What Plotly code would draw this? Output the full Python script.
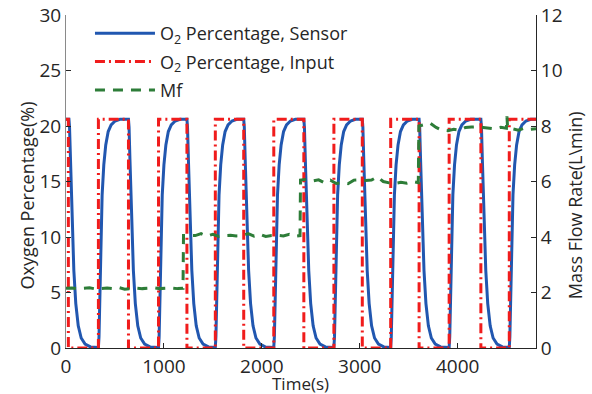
import plotly.graph_objects as go

# ---------------- data ----------------
# O2 percentage measured by sensor (%), time in s
sensor_t = [0,
    30, 36, 45, 55, 65, 80, 100, 125, 155, 195, 250,
    331, 337, 346, 356, 369, 386, 406, 431, 461, 501, 551,
    638, 644, 653, 663, 673, 688, 708, 733, 763, 803, 858,
    945, 951, 960, 970, 983, 1000, 1020, 1045, 1075, 1115, 1165,
    1235, 1241, 1250, 1260, 1270, 1285, 1305, 1330, 1360, 1400, 1455,
    1525, 1531, 1540, 1550, 1563, 1580, 1600, 1625, 1655, 1695, 1745,
    1815, 1821, 1830, 1840, 1850, 1865, 1885, 1910, 1940, 1980, 2035,
    2122, 2128, 2137, 2147, 2160, 2177, 2197, 2222, 2252, 2292, 2342,
    2429, 2435, 2444, 2454, 2464, 2479, 2499, 2524, 2554, 2594, 2649,
    2736, 2742, 2751, 2761, 2774, 2791, 2811, 2836, 2866, 2906, 2956,
    3026, 3032, 3041, 3051, 3061, 3076, 3096, 3121, 3151, 3191, 3246,
    3316, 3322, 3331, 3341, 3354, 3371, 3391, 3416, 3446, 3486, 3536,
    3606, 3612, 3621, 3631, 3641, 3656, 3676, 3701, 3731, 3771, 3826,
    3913, 3919, 3928, 3938, 3951, 3968, 3988, 4013, 4043, 4083, 4133,
    4237, 4243, 4252, 4262, 4272, 4287, 4307, 4332, 4362, 4402, 4457,
    4527, 4533, 4542, 4552, 4565, 4582, 4602, 4627, 4657, 4697, 4747,
    4800]
sensor_o2 = [20.6,
    20.6, 19.9, 17.0, 13.8, 10.5, 7.0, 4.0, 2.0, 0.9, 0.35, 0.1,
    0.05, 1.0, 5.5, 10.0, 13.8, 16.5, 18.3, 19.5, 20.1, 20.45, 20.6,
    20.6, 19.9, 17.0, 13.8, 10.5, 7.0, 4.0, 2.0, 0.9, 0.35, 0.1,
    0.05, 1.0, 5.5, 10.0, 13.8, 16.5, 18.3, 19.5, 20.1, 20.45, 20.6,
    20.6, 19.9, 17.0, 13.8, 10.5, 7.0, 4.0, 2.0, 0.9, 0.35, 0.1,
    0.05, 1.0, 5.5, 10.0, 13.8, 16.5, 18.3, 19.5, 20.1, 20.45, 20.6,
    20.6, 19.9, 17.0, 13.8, 10.5, 7.0, 4.0, 2.0, 0.9, 0.35, 0.1,
    0.05, 1.0, 5.5, 10.0, 13.8, 16.5, 18.3, 19.5, 20.1, 20.45, 20.6,
    20.6, 19.9, 17.0, 13.8, 10.5, 7.0, 4.0, 2.0, 0.9, 0.35, 0.1,
    0.05, 1.0, 5.5, 10.0, 13.8, 16.5, 18.3, 19.5, 20.1, 20.45, 20.6,
    20.6, 19.9, 17.0, 13.8, 10.5, 7.0, 4.0, 2.0, 0.9, 0.35, 0.1,
    0.05, 1.0, 5.5, 10.0, 13.8, 16.5, 18.3, 19.5, 20.1, 20.45, 20.6,
    20.6, 19.9, 17.0, 13.8, 10.5, 7.0, 4.0, 2.0, 0.9, 0.35, 0.1,
    0.05, 1.0, 5.5, 10.0, 13.8, 16.5, 18.3, 19.5, 20.1, 20.45, 20.6,
    20.6, 19.9, 17.0, 13.8, 10.5, 7.0, 4.0, 2.0, 0.9, 0.35, 0.1,
    0.05, 1.0, 5.5, 10.0, 13.8, 16.5, 18.3, 19.5, 20.1, 20.45, 20.6,
    20.6]

# O2 percentage input (square wave, switching times in s)
input_t = [0, 24, 331, 638, 945, 1235, 1525, 1815, 2122, 2429, 2736,
           3026, 3316, 3606, 3913, 4237, 4527, 4800]
input_o2 = [20.6, 0, 20.6, 0, 20.6, 0, 20.6, 0, 20.6, 0, 20.6,
            0, 20.6, 0, 20.6, 0, 20.6, 20.6]

# Mass flow rate (L/min)
mf_t = [0, 60, 120, 180, 240, 300, 360, 420, 480, 540, 600, 660, 720, 780,
        840, 900, 960, 1020, 1080, 1140, 1195,
        1200, 1260, 1320, 1380, 1440, 1500, 1560, 1620, 1680, 1740, 1800,
        1860, 1920, 1980, 2040, 2100, 2160, 2220, 2280, 2340, 2390,
        2395, 2460, 2520, 2580, 2640, 2700, 2760, 2820, 2880, 2940, 3000,
        3060, 3120, 3180, 3240, 3300, 3360, 3420, 3480, 3540, 3598,
        3604, 3660, 3720, 3780, 3840, 3900, 3960, 4020, 4080, 4140, 4200,
        4260, 4320, 4380, 4440, 4498, 4503, 4510, 4560, 4620, 4680, 4740, 4800]
mf_val = [2.15, 2.16, 2.14, 2.15, 2.17, 2.13, 2.15, 2.16, 2.14, 2.18, 2.12, 2.15, 2.16, 2.14,
          2.15, 2.17, 2.14, 2.15, 2.16, 2.14, 2.15,
          4.05, 4.06, 4.05, 4.12, 4.03, 4.10, 4.02, 4.05, 4.06, 4.04, 4.05,
          4.12, 4.03, 4.10, 4.02, 4.05, 4.06, 4.04, 4.10, 4.03, 4.05,
          6.05, 6.08, 6.02, 6.06, 5.95, 6.05, 5.93, 5.96, 5.92, 6.05, 6.06,
          6.04, 6.05, 6.17, 6.00, 5.95, 5.93, 5.97, 5.94, 6.00, 5.96,
          8.00, 8.05, 8.10, 7.95, 7.85, 7.83, 7.88, 7.85, 7.95, 7.96, 7.97,
          7.95, 7.93, 7.90, 7.95, 7.92, 8.35, 7.95, 7.90, 7.85, 7.92, 7.88, 7.90]

x_ticks = [0, 1000, 2000, 3000, 4000]
y_ticks = [0, 5, 10, 15, 20, 25, 30]
y2_ticks = [0, 2, 4, 6, 8, 10, 12]

FONT = "Open Sans"
TXT = "#262626"

fig = go.Figure()
fig.add_trace(go.Scatter(x=sensor_t, y=sensor_o2, mode="lines",
                         name="O<sub>2</sub> Percentage, Sensor", legendgroup="a",
                         line=dict(color="#2157b0", width=3)))
fig.add_trace(go.Scatter(x=input_t, y=input_o2, mode="lines", line_shape="hv",
                         name="O<sub>2</sub> Percentage, Input", legendgroup="b",
                         line=dict(color="#f01c1c", width=3, dash="10px,4px,2px,4px")))
fig.add_trace(go.Scatter(x=mf_t, y=mf_val, mode="lines", yaxis="y2",
                         name="Mf", legendgroup="c",
                         line=dict(color="#2d7d38", width=3, dash="10px,8px")))

fig.update_layout(
    width=592, height=394,
    margin=dict(l=66, r=56, t=15, b=46, autoexpand=False),
    paper_bgcolor="white", plot_bgcolor="white",
    font=dict(family=FONT, size=19, color=TXT),
    xaxis=dict(range=[0, 4800], tickvals=x_ticks, ticks="inside", ticklen=5,
               tickcolor=TXT, showline=True, linecolor=TXT, linewidth=1,
               showgrid=False, zeroline=False, tickfont=dict(size=19),
               ticklabelstandoff=1, automargin=False),
    yaxis=dict(range=[0, 30], tickvals=y_ticks, ticks="inside", ticklen=5,
               tickcolor=TXT, showline=True, linecolor="#8a8a8a", linewidth=1,
               showgrid=False, zeroline=False, tickfont=dict(size=19),
               automargin=False),
    yaxis2=dict(range=[0, 12], tickvals=y2_ticks, ticks="inside", ticklen=5,
                overlaying="y", side="right", anchor="x",
                tickcolor=TXT, showline=True, linecolor=TXT, linewidth=1,
                showgrid=False, zeroline=False, tickfont=dict(size=19),
                automargin=False),
    legend=dict(x=0.051, y=1.0, xanchor="left", yanchor="top",
                bgcolor="rgba(0,0,0,0)", font=dict(size=18, color=TXT),
                traceorder="grouped", tracegroupgap=2, itemwidth=60),
    showlegend=True,
    annotations=[
        dict(text="Oxygen Percentage(%)", xref="paper", yref="paper",
             x=-0.081, y=0.458, xanchor="center", yanchor="middle",
             textangle=-90, showarrow=False, font=dict(size=18, color=TXT)),
        dict(text="Mass Flow Rate(L\\min)", xref="paper", yref="paper",
             x=1.083, y=0.429, xanchor="center", yanchor="middle",
             textangle=-90, showarrow=False, font=dict(size=18, color=TXT)),
        dict(text="Time(s)", xref="paper", yref="paper",
             x=0.498, y=-0.108, xanchor="center", yanchor="middle",
             showarrow=False, font=dict(size=17, color=TXT)),
    ],
)

fig.write_html("out.html", config={"displayModeBar": False},
               post_script="document.body.style.margin='0';document.body.style.overflow='hidden';")
